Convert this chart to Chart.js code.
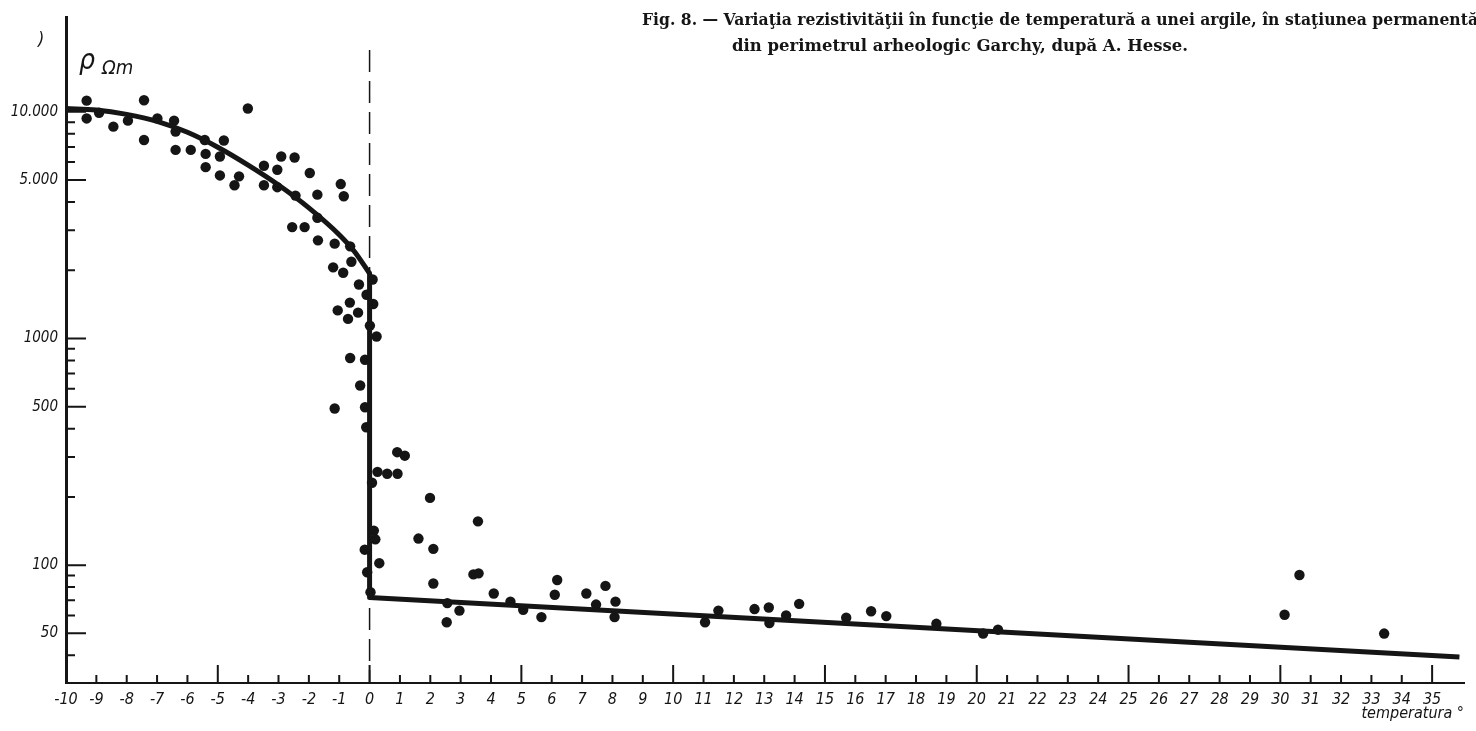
<!DOCTYPE html>
<html lang="ro">
<head>
<meta charset="utf-8">
<title>Rezistivitate – temperatură, Garchy</title>
<script src="https://cdn.jsdelivr.net/npm/chart.js@4.4.1/dist/chart.umd.min.js"></script>
<style>
  html, body { margin: 0; padding: 0; background: #fff; }
  #chart { display: block; }
</style>
</head>
<body>
<canvas id="chart" width="1476" height="731"></canvas>
<script>
// Clay resistivity (ohm·m, log scale) against temperature (°C)

// Measured samples
const sampleTemp = [
  -9.32, -9.32, -8.91, -8.44, -7.96, -7.43, -7.43, -6.99, -6.44, -6.39,
  -6.39, -5.89, -5.43, -5.40, -5.40, -4.93, -4.80, -4.93, -4.45, -4.30,
  -4.01, -3.48, -3.48, -3.04, -3.04, -2.91, -2.47, -2.44, -1.97, -1.72,
  -1.72, -0.95, -0.85, -2.55, -2.14, -1.70, -1.15, -0.64, -0.60, -1.20,
  -0.87, 0.10, -0.35, -0.10, 0.12, -0.65, -1.05, -0.38, -0.71, 0.01,
  0.23, -0.64, -0.15, -0.31, -0.15, -1.15, -0.11, 0.91, 1.16, 0.26,
  0.58, 0.92, 0.08, 1.99, 0.14, 0.19, -0.16, 0.32, -0.08, 0.03,
  1.61, 3.57, 2.10, 2.10, 3.42, 3.59, 2.56, 2.54, 2.96, 4.09,
  4.64, 5.06, 5.66, 6.18, 6.10, 7.14, 7.77, 7.46, 8.10, 8.07,
  11.05, 11.49, 12.68, 13.15, 13.17, 13.72, 14.15, 15.70, 16.52, 17.02,
  18.67, 20.21, 20.70, 30.63, 30.14, 33.42
];
const sampleRho = [
  11200, 9350, 9900, 8600, 9140, 11250, 7510, 9350, 9140, 8180,
  6790, 6790, 7510, 6520, 5700, 6350, 7470, 5240, 4740, 5190,
  10340, 5780, 4740, 5550, 4650, 6350, 6290, 4270, 5370, 4310,
  3410, 4800, 4240, 3100, 3100, 2710, 2620, 2550, 2180, 2060,
  1950, 1820, 1730, 1560, 1420, 1440, 1330, 1300, 1220, 1140,
  1020, 820, 806, 620, 497, 491, 406, 315, 304, 258,
  253, 253, 231, 198, 142, 130, 117, 102, 93, 76,
  131, 156, 118, 83, 91, 92, 68, 56, 63, 75,
  69, 63.5, 59, 86, 74, 75, 81, 67, 69, 59,
  56, 63, 64, 65, 55.5, 60, 67.5, 58.6, 62.6, 59.6,
  55.1, 49.9, 51.9, 90.5, 60.4, 49.9
];

// Fitted curve: frozen branch below 0°
const frozenTemp = [-10, -9, -8, -7, -6, -5, -4, -3, -2, -1, -0.5, 0];
const frozenRho = [10340, 10190, 9740, 9075, 8120, 6980, 5820, 4755, 3770, 2870, 2420, 1935];

// Fitted curve: drop at 0° and straight run above it
const thawTemp = [0, 0, 35.9];
const thawRho = [1935, 72, 39.3];

// Axis ticks
const tempTicks = [
  -10, -9, -8, -7, -6, -5, -4, -3, -2, -1, 0, 1, 2, 3, 4, 5, 6, 7, 8, 9,
  10, 11, 12, 13, 14, 15, 16, 17, 18, 19, 20, 21, 22, 23, 24, 25, 26, 27,
  28, 29, 30, 31, 32, 33, 34, 35
];
const rhoTicks = [50, 100, 500, 1000, 5000, 10000];
const rhoTickLabels = ['50', '100', '500', '1000', '5.000', '10.000'];
const rhoMinorTicks = [40, 60, 70, 80, 90, 200, 300, 400, 600, 700, 800, 900,
  2000, 3000, 4000, 6000, 7000, 8000, 9000];

const captionLines = [
  'Fig. 8. — Variaţia rezistivităţii în funcţie de temperatură a unei argile, în staţiunea permanentă',
  'din perimetrul arheologic Garchy, după A. Hesse.'
];

const INK = '#151515';
const handFont = "'DejaVu Sans Condensed', 'DejaVu Sans', sans-serif";

const toPoints = (xs, ys) => xs.map((t, i) => ({ x: t, y: ys[i] }));

// Inward tick marks, the dashed 0° line and the free text
const paperMarks = {
  id: 'paperMarks',
  beforeDatasetsDraw(chart) {
    const { ctx, chartArea: area, scales: { x, y } } = chart;
    ctx.save();
    ctx.strokeStyle = INK;

    ctx.lineWidth = 2;
    ctx.beginPath();
    rhoTicks.forEach(v => {
      const py = y.getPixelForValue(v);
      ctx.moveTo(area.left, py);
      ctx.lineTo(area.left + 20, py);
    });
    rhoMinorTicks.forEach(v => {
      const py = y.getPixelForValue(v);
      ctx.moveTo(area.left, py);
      ctx.lineTo(area.left + 9, py);
    });
    tempTicks.forEach(v => {
      if (v === -10) return;
      const px = x.getPixelForValue(v);
      const len = v % 5 === 0 ? 18 : 8;
      ctx.moveTo(px, area.bottom);
      ctx.lineTo(px, area.bottom - len);
    });
    ctx.stroke();

    // 0° reference
    const x0 = x.getPixelForValue(0);
    ctx.lineWidth = 1.5;
    ctx.setLineDash([22, 9]);
    ctx.beginPath();
    ctx.moveTo(x0, area.top + 33);
    ctx.lineTo(x0, area.bottom);
    ctx.stroke();
    ctx.restore();
  },
  afterDraw(chart) {
    const { ctx, chartArea: area } = chart;
    ctx.save();
    ctx.fillStyle = INK;
    ctx.textBaseline = 'alphabetic';

    // caption, squeezed to its printed width
    ctx.font = "bold 17px 'DejaVu Serif', serif";
    ctx.fillText(captionLines[0], 642, 25, 836);
    ctx.fillText(captionLines[1], 732, 51, 456);

    ctx.font = `italic 18px ${handFont}`;
    ctx.fillText(')', 38, 45);

    ctx.font = `italic 28px ${handFont}`;
    ctx.fillText('ρ', area.left + 13, area.top + 52);
    ctx.font = `italic 20px ${handFont}`;
    ctx.fillText('Ωm', area.left + 36, area.top + 57);

    ctx.font = `italic 16px ${handFont}`;
    ctx.textAlign = 'right';
    ctx.fillText('temperatura °', area.right, area.bottom + 35);
    ctx.restore();
  }
};

new Chart(document.getElementById('chart'), {
  type: 'scatter',
  data: {
    datasets: [
      {
        type: 'line',
        data: toPoints(frozenTemp, frozenRho),
        showLine: true,
        borderColor: INK,
        borderWidth: 5,
        pointRadius: 0,
        cubicInterpolationMode: 'monotone'
      },
      {
        type: 'line',
        data: toPoints(thawTemp, thawRho),
        showLine: true,
        borderColor: INK,
        borderWidth: 5,
        borderJoinStyle: 'round',
        pointRadius: 0,
        tension: 0
      },
      {
        data: toPoints(sampleTemp, sampleRho),
        backgroundColor: INK,
        borderWidth: 0,
        pointRadius: 5.2,
        pointHoverRadius: 5.2
      }
    ]
  },
  options: {
    responsive: false,
    animation: false,
    devicePixelRatio: 1,
    layout: { padding: { top: 13, right: 12, left: 0, bottom: 0 } },
    plugins: {
      legend: { display: false },
      tooltip: { enabled: false }
    },
    scales: {
      x: {
        type: 'linear',
        min: -10,
        max: 36.05,
        grid: { display: false, drawTicks: false },
        border: { display: true, color: INK, width: 2 },
        afterBuildTicks: scale => { scale.ticks = tempTicks.map(v => ({ value: v })); },
        afterFit: scale => { scale.height = 48; },
        ticks: {
          autoSkip: false,
          maxRotation: 0,
          padding: 7,
          color: INK,
          font: { family: handFont, size: 16, style: 'italic' },
          callback: v => String(v)
        }
      },
      y: {
        type: 'logarithmic',
        min: 30.2,
        max: 26200,
        grid: { display: false, drawTicks: false },
        border: { display: true, color: INK, width: 3 },
        afterBuildTicks: scale => { scale.ticks = rhoTicks.map(v => ({ value: v })); },
        afterFit: scale => { scale.width = 66; },
        ticks: {
          padding: 8,
          color: INK,
          font: { family: handFont, size: 15, style: 'italic' },
          callback: v => rhoTickLabels[rhoTicks.indexOf(v)] || ''
        }
      }
    }
  },
  plugins: [paperMarks]
});
</script>
</body>
</html>
